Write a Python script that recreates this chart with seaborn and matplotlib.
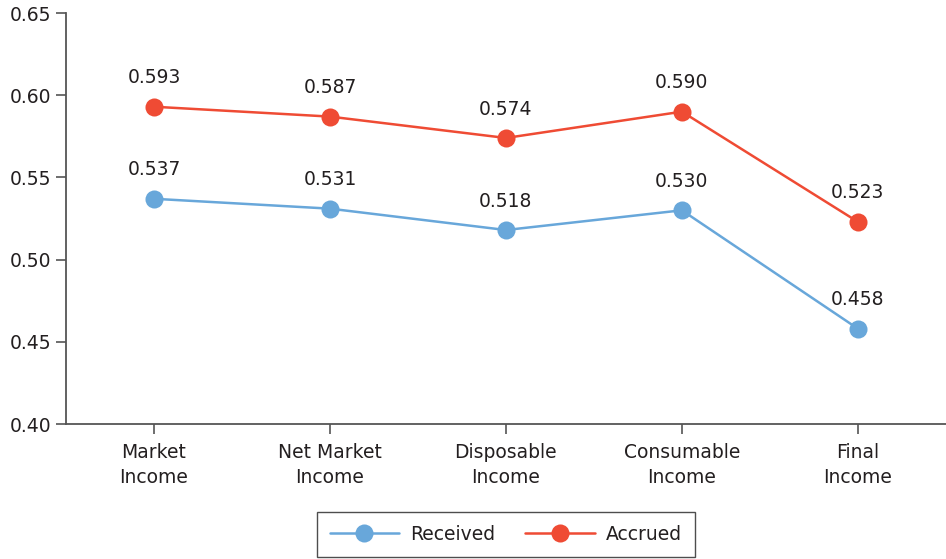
import matplotlib
matplotlib.use("Agg")
import matplotlib.pyplot as plt
import seaborn as sns
import pandas as pd

categories = ["Market\nIncome", "Net Market\nIncome", "Disposable\nIncome", "Consumable\nIncome", "Final\nIncome"]
received = [0.537, 0.531, 0.518, 0.530, 0.458]
accrued = [0.593, 0.587, 0.574, 0.590, 0.523]
yticks = [0.40, 0.45, 0.50, 0.55, 0.60, 0.65]

sns.set_style("ticks")
plt.rcParams['font.family'] = ['DejaVu Sans']
text_color = "#231f20"
fs = 13.5

df = pd.DataFrame({
    "x": list(range(len(categories))) * 2,
    "value": received + accrued,
    "series": ["Received"] * len(received) + ["Accrued"] * len(accrued),
})

palette = {"Received": "#68a7da", "Accrued": "#ef4b34"}

fig = plt.figure(figsize=(9.46, 5.59), dpi=100)
ax = fig.add_axes([0.0698, 0.2415, 0.93, 0.7352])

sns.lineplot(data=df, x="x", y="value", hue="series", palette=palette,
             marker="o", markersize=13, markeredgewidth=0, linewidth=1.8,
             ax=ax, legend=True)

for s, vals in (("Received", received), ("Accrued", accrued)):
    for i, v in enumerate(vals):
        ax.annotate(f"{v:.3f}", (i, v), xytext=(0, 14), textcoords="offset points",
                    ha="center", va="bottom", fontsize=fs, color=text_color)

ax.set_xlim(-0.5, len(categories) - 0.5)
ax.set_ylim(0.40, 0.65)
ax.set_yticks(yticks)
ax.set_yticklabels([f"{t:.2f}" for t in yticks])
ax.set_xticks(range(len(categories)))
ax.set_xticklabels(categories, linespacing=1.4)
ax.set_xlabel("")
ax.set_ylabel("")
for s in ("top", "right"):
    ax.spines[s].set_visible(False)
for s in ("left", "bottom"):
    ax.spines[s].set_color("#555555")
    ax.spines[s].set_linewidth(1.3)
ax.tick_params(axis="both", labelsize=fs, colors=text_color, length=7, width=1.2, direction="out")
ax.tick_params(axis="x", pad=7)
ax.tick_params(axis="both", color="#555555")

handles, labels = ax.get_legend_handles_labels()
leg = ax.legend(handles, labels, loc="center", bbox_to_anchor=(0.5, -0.268),
                ncol=2, frameon=True, fancybox=False, fontsize=fs,
                handlelength=3.7, handletextpad=0.6, columnspacing=1.6, borderpad=0.7)
leg.get_frame().set_edgecolor("#222222")
leg.get_frame().set_linewidth(1.0)
for t in leg.get_texts():
    t.set_color(text_color)

fig.savefig("out.png", dpi=100)
